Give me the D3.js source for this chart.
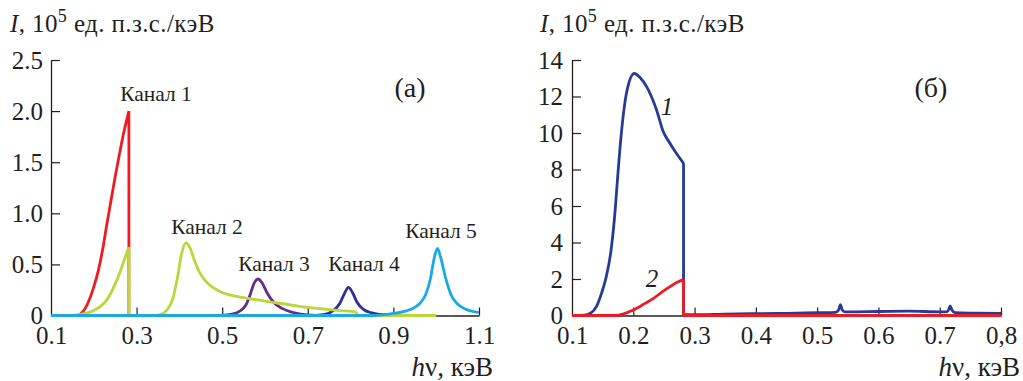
<!DOCTYPE html>
<html><head><meta charset="utf-8">
<script src="https://cdn.jsdelivr.net/npm/d3@7"></script>
<style>
body{margin:0;background:#fff;}
svg{display:block;}
</style></head>
<body><svg id="c" width="1023" height="381" font-family="Liberation Serif, Times New Roman, serif"></svg>
<script>
// ---------- Data: panel (а) ----------
const xTicksA = [0.1, 0.3, 0.5, 0.7, 0.9, 1.1];
const xTickLabelsA = ["0.1", "0.3", "0.5", "0.7", "0.9", "1.1"];
const yTicksA = [0, 0.5, 1.0, 1.5, 2.0, 2.5];
const yTickLabelsA = ["0", "0.5", "1.0", "1.5", "2.0", "2.5"];

const ch1X = [0.16, 0.17, 0.18, 0.19, 0.20, 0.21, 0.22, 0.23, 0.24, 0.25, 0.26, 0.27, 0.282, 0.282];
const ch1Y = [0, 0.02, 0.07, 0.16, 0.28, 0.43, 0.63, 0.88, 1.12, 1.36, 1.58, 1.79, 2.0, 0];

const ch2X = [0.15, 0.16, 0.18, 0.20, 0.215, 0.23, 0.24, 0.25, 0.26, 0.27, 0.282, 0.282, 0.34, 0.355, 0.37, 0.385, 0.395, 0.405, 0.415, 0.425, 0.435, 0.445, 0.455, 0.47, 0.49, 0.51, 0.55, 0.60, 0.65, 0.70, 0.75, 0.80, 0.814, 0.814, 1.0];
const ch2Y = [0, 0.005, 0.02, 0.05, 0.086, 0.15, 0.22, 0.31, 0.41, 0.53, 0.67, 0, 0, 0.01, 0.05, 0.17, 0.36, 0.6, 0.71, 0.66, 0.54, 0.44, 0.37, 0.3, 0.245, 0.21, 0.175, 0.14, 0.11, 0.08, 0.058, 0.04, 0.035, 0, 0];

const ch3X = [0.50, 0.52, 0.54, 0.555, 0.565, 0.575, 0.584, 0.593, 0.605, 0.62, 0.64, 0.66, 0.68, 0.70, 0.72];
const ch3Y = [0, 0.01, 0.04, 0.1, 0.2, 0.32, 0.357, 0.32, 0.22, 0.13, 0.07, 0.035, 0.015, 0.005, 0];

const ch4X = [0.72, 0.74, 0.76, 0.775, 0.785, 0.795, 0.805, 0.815, 0.83, 0.85, 0.87, 0.90];
const ch4Y = [0, 0.01, 0.05, 0.12, 0.21, 0.276, 0.22, 0.13, 0.06, 0.025, 0.01, 0];

const ch5X = [0.10, 0.85, 0.90, 0.93, 0.95, 0.962, 0.975, 0.986, 0.996, 1.003, 1.01, 1.023, 1.035, 1.048, 1.07, 1.10];
const ch5Y = [0, 0, 0.02, 0.045, 0.08, 0.12, 0.2, 0.35, 0.575, 0.657, 0.575, 0.35, 0.2, 0.12, 0.06, 0.03];

const channelNames = ["Канал 1", "Канал 2", "Канал 3", "Канал 4", "Канал 5"];
const channelColors = ["#ed1c24", "#bcd53a", "#662d91", "#2e3192", "#1aa9e5"];

// ---------- Data: panel (б) ----------
const xTicksB = [0.1, 0.2, 0.3, 0.4, 0.5, 0.6, 0.7, 0.8];
const xTickLabelsB = ["0.1", "0.2", "0.3", "0.4", "0.5", "0.6", "0.7", "0,8"];
const yTicksB = [0, 2, 4, 6, 8, 10, 12, 14];
const yTickLabelsB = ["0", "2", "4", "6", "8", "10", "12", "14"];

const c1X = [0.10, 0.12, 0.13, 0.14, 0.148, 0.155, 0.163, 0.17, 0.175, 0.18, 0.189, 0.2016, 0.212, 0.222, 0.238, 0.249, 0.26, 0.27, 0.282, 0.282, 0.30, 0.35, 0.40, 0.45, 0.50, 0.53, 0.535, 0.538, 0.541, 0.545, 0.55, 0.60, 0.65, 0.70, 0.712, 0.715, 0.717, 0.72, 0.725, 0.75, 0.80];
const c1Y = [0, 0.02, 0.12, 0.5, 1.2, 2.0, 3.4, 5.6, 7.8, 9.8, 12.2, 13.26, 13.0, 12.53, 11.26, 10.07, 9.43, 8.9, 8.34, 0.05, 0.05, 0.08, 0.1, 0.12, 0.15, 0.17, 0.3, 0.6, 0.3, 0.2, 0.2, 0.22, 0.24, 0.2, 0.2, 0.35, 0.52, 0.3, 0.15, 0.13, 0.12];

const c2X = [0.10, 0.17, 0.18, 0.20, 0.22, 0.233, 0.25, 0.26, 0.27, 0.282, 0.282, 0.80];
const c2Y = [0, 0, 0.05, 0.3, 0.68, 0.94, 1.36, 1.58, 1.79, 1.98, 0, 0];

const curveNames = ["1", "2"];
const curveColors = ["#263a96", "#ed1c24"];

// ---------- Drawing ----------
const svg = d3.select("#c");
const FONT = "Liberation Serif, Times New Roman, serif";
const FONT_TICK = 25;
const AXIS_COL = "#231f20";

function splitPath(xs, ys, x, y) {
  const pts = xs.map((v, i) => [v, ys[i]]);
  const pieces = [];
  let cur = [pts[0]];
  for (let i = 1; i < pts.length; i++) {
    if (pts[i][0] === pts[i - 1][0]) {
      pieces.push(cur);
      pieces.push([pts[i - 1], pts[i]]);
      cur = [pts[i]];
    } else cur.push(pts[i]);
  }
  pieces.push(cur);
  const smooth = d3.line().x(d => x(d[0])).y(d => y(d[1])).curve(d3.curveMonotoneX);
  const lin = d3.line().x(d => x(d[0])).y(d => y(d[1]));
  return pieces.filter(p => p.length > 1).map(p => (p.length === 2 && p[0][0] === p[1][0]) ? lin(p) : smooth(p)).join("");
}

function drawSeries(g, xs, ys, x, y, color, w) {
  g.append("path").attr("d", splitPath(xs, ys, x, y))
    .attr("fill", "none").attr("stroke", color).attr("stroke-width", w)
    .attr("stroke-linejoin", "round").attr("stroke-linecap", "butt");
}

function drawAxes(x, y, xT, xL, yT, yL, yLabelOff) {
  const gx = svg.append("g").attr("transform", `translate(0,${y(0)})`)
    .call(d3.axisBottom(x).tickValues(xT).tickFormat((d, i) => xL[i]).tickSize(-8).tickSizeOuter(0));
  const gy = svg.append("g").attr("transform", `translate(${x.range()[0]},0)`)
    .call(d3.axisLeft(y).tickValues(yT).tickFormat((d, i) => yL[i]).tickSize(-9).tickSizeOuter(0));
  [gx, gy].forEach(g => {
    g.attr("font-family", FONT).attr("font-size", FONT_TICK);
    g.select(".domain").attr("stroke", AXIS_COL).attr("stroke-width", 1.3);
    g.selectAll(".tick line").attr("stroke", AXIS_COL).attr("stroke-width", 1.2);
    g.selectAll("text").attr("fill", AXIS_COL);
  });
  gx.selectAll("text").attr("dy", null).attr("y", 28);
  gy.selectAll("text").attr("x", -yLabelOff).attr("dy", "0.33em");
  gx.selectAll(".tick").filter((d, i) => i === 0).select("line").remove();
  gy.selectAll(".tick").filter((d, i) => i === 0).select("line").remove();
}

function txt(x, y, size) {
  return svg.append("text").attr("x", x).attr("y", y).attr("font-size", size)
    .attr("fill", AXIS_COL);
}
function yTitle(xPos) {
  const t = txt(xPos, 32, 25).attr("letter-spacing", 0.4);
  t.append("tspan").attr("font-style", "italic").text("I");
  t.append("tspan").text(", 10");
  t.append("tspan").attr("dy", -10).attr("font-size", 18).text("5");
  t.append("tspan").attr("dy", 10).text(" ед. п.з.с./кэВ");
}
function xTitle(xRight) {
  const t = txt(xRight, 376, 27).attr("text-anchor", "end");
  t.append("tspan").attr("font-style", "italic").text("h");
  t.append("tspan").text("ν, кэВ");
}

// Panel (а)
const xA = d3.scaleLinear().domain([0.1, 1.1]).range([51, 479]);
const yA = d3.scaleLinear().domain([0, 2.5]).range([315.5, 60]);
drawAxes(xA, yA, xTicksA, xTickLabelsA, yTicksA, yTickLabelsA, 8);
const gA = svg.append("g");
drawSeries(gA, ch3X, ch3Y, xA, yA, channelColors[2], 2.8);
drawSeries(gA, ch4X, ch4Y, xA, yA, channelColors[3], 2.8);
drawSeries(gA, ch1X, ch1Y, xA, yA, channelColors[0], 2.8);
drawSeries(gA, ch2X, ch2Y, xA, yA, channelColors[1], 2.8);
drawSeries(gA, ch5X, ch5Y, xA, yA, channelColors[4], 2.8);
yTitle(10);
xTitle(493);
const chLabelPos = [[156, 101], [207, 234], [274, 271], [364, 271], [441, 238]];
channelNames.forEach((n, i) => {
  txt(chLabelPos[i][0], chLabelPos[i][1], 21.5).attr("text-anchor", "middle").text(n);
});
txt(410, 97, 28).attr("text-anchor", "middle").text("(а)");

// Panel (б)
const xB = d3.scaleLinear().domain([0.1, 0.8]).range([572, 1001]);
const yB = d3.scaleLinear().domain([0, 14]).range([315.5, 60]);
drawAxes(xB, yB, xTicksB, xTickLabelsB, yTicksB, yTickLabelsB, 9);
const gB = svg.append("g");
drawSeries(gB, c1X, c1Y, xB, yB, curveColors[0], 2.8);
drawSeries(gB, c2X, c2Y, xB, yB, curveColors[1], 2.8);
yTitle(540);
xTitle(1020);
const curveLabelPos = [[667, 115], [652, 287]];
curveNames.forEach((n, i) => {
  txt(curveLabelPos[i][0], curveLabelPos[i][1], 25).attr("text-anchor", "middle")
    .attr("font-style", "italic").text(n);
});
txt(931, 97, 28).attr("text-anchor", "middle").text("(б)");
</script></body></html>
